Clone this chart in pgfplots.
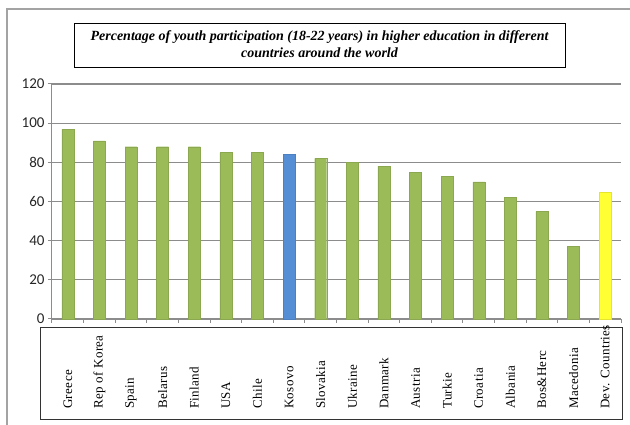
\documentclass[border=0pt]{standalone}
\usepackage{pgfplots}
\pgfplotsset{compat=1.18}
\usepackage{fontspec}
\setmainfont{Liberation Serif}
\newfontfamily\carlito{Carlito}
\newfontfamily\lbl[LetterSpace=3]{Liberation Serif}
\definecolor{bargreen}{HTML}{9BBB59}
\definecolor{barblue}{HTML}{558ED5}
\definecolor{baryellow}{HTML}{FFFF33}
\definecolor{gridgray}{HTML}{8C8C8C}
\begin{document}
\begin{tikzpicture}[x=1pt,y=1pt]
\useasboundingbox (0,0) rectangle (630,425);
% outer frame
\draw[gridgray!80, line width=1.2pt] (7,0) -- (7,416) -- (630,416);
% title box
\draw[black, line width=0.8pt] (74,358) rectangle (565,402);
\node[font=\fontsize{14}{17}\selectfont\bfseries\itshape, align=center] at (319.5,380.5)
  {Percentage of youth participation (18-22 years) in higher education in different\\countries around the world};
% label box
\draw[black!80, line width=0.9pt] (40,6) rectangle (622,98);
\begin{axis}[
  at={(52pt,106pt)}, anchor=south west,
  scale only axis, width=569pt, height=235pt,
  xmin=-0.5, xmax=17.5, ymin=0, ymax=120,
  ytick={0,20,...,120},
  minor ytick={0,20,...,120},
  axis x line=bottom, axis y line=left,
  axis line style={draw=gridgray, line width=1pt, -},
  ymajorgrids, grid style={draw=gridgray, line width=1.2pt},
  tick style={draw=gridgray, line width=1pt},
  tick align=outside,
  major tick length=0pt,
  minor tick length=4pt,
  xtick={0,...,17},
  minor xtick={-0.5,0.5,...,17.5},
  xticklabels={Greece,Rep of Korea,Spain,Belarus,Finland,USA,Chile,Kosovo,Slovakia,Ukraine,Danmark,Austria,Turkie,Croatia,Albania,Bos\&Herc,Macedonia,Dev. Countries},
  xticklabel style={yshift=-90pt, rotate=90, anchor=west, inner sep=0pt, font=\fontsize{13}{13}\lbl},
  yticklabel style={font=\fontsize{15}{15}\carlito, text=black!85, xshift=-4pt},
  /pgf/number format/assume math mode=true,
  ybar, bar width=12pt, bar shift=0pt,
  clip=false,
]
\addplot[fill=bargreen, draw=bargreen!90!black, line width=0.3pt] coordinates {
(0,97) (1,91) (2,88) (3,88) (4,88) (5,85) (6,85) (8,82) (9,80) (10,78) (11,75) (12,73) (13,70) (14,62) (15,55) (16,37)};
\addplot[fill=barblue, draw=barblue!90!black, line width=0.3pt] coordinates {(7,84)};
\addplot[fill=baryellow, draw=baryellow!90!black, line width=0.3pt] coordinates {(17,65)};
\end{axis}
\end{tikzpicture}
\end{document}
